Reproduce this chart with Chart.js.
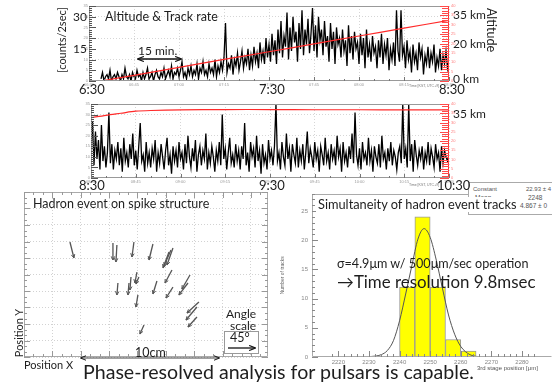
<!DOCTYPE html>
<html>
<head>
<meta charset="utf-8">
<script src="https://cdn.jsdelivr.net/npm/chart.js@4.4.0/dist/chart.umd.min.js"></script>
<style>
body { margin: 0; width: 552px; height: 383px; overflow: hidden; background: #fff; position: relative; font-family: Lato, "Open Sans", sans-serif; color: #1e1e1e; }
canvas { position: absolute; }
.t { position: absolute; white-space: nowrap; line-height: 1; }
.rot { transform: translate(-50%, -50%) rotate(-90deg); }
.rotc { transform: translate(-50%, -50%) rotate(90deg); }
.tiny { font-family: "Liberation Sans", sans-serif; color: #777; }
</style>
</head>
<body>

<canvas id="rate1" width="410" height="100" style="left:60px;top:0px"></canvas>
<canvas id="rate2" width="410" height="100" style="left:60px;top:98px"></canvas>
<canvas id="hadron" width="280" height="180" style="left:0px;top:186px"></canvas>
<canvas id="hist" width="272" height="197" style="left:280px;top:186px"></canvas>

<svg width="552" height="383" style="position:absolute;left:0;top:0">
  <defs>
    <marker id="ah" viewBox="0 0 10 10" refX="9" refY="5" markerWidth="5" markerHeight="5" orient="auto-start-reverse">
      <path d="M0,1 L10,5 L0,9" fill="none" stroke="#111" stroke-width="1.6"/>
    </marker>
  </defs>
  <line x1="138" y1="59" x2="181" y2="59" stroke="#111" stroke-width="1.3" marker-start="url(#ah)" marker-end="url(#ah)"/>
  <line x1="81" y1="358" x2="219" y2="358" stroke="#444" stroke-width="1.2" marker-start="url(#ah)" marker-end="url(#ah)"/>
  <rect x="224.5" y="331.5" width="34" height="22" fill="#fff" stroke="#999"/>
  <line x1="228" y1="348" x2="255" y2="348" stroke="#111" stroke-width="1.3" marker-end="url(#ah)"/>
</svg>

<!-- stats box of the histogram, partly hidden by the title -->
<div style="position:absolute;left:468px;top:182px;width:90px;height:31px;border:1px solid #aaa;background:#fff"></div>
<div class="t tiny" style="left:473px;top:186px;font-size:6px;color:#555">Constant</div>
<div class="t tiny" style="left:526px;top:186px;font-size:6px;color:#555">22.93 ± 4</div>
<div class="t tiny" style="left:475px;top:195px;font-size:6.5px;color:#555">Mean</div>
<div class="t tiny" style="left:528px;top:195px;font-size:6.5px;color:#555">2248</div>
<div class="t tiny" style="left:475px;top:203px;font-size:6.5px;color:#555">Sigma</div>
<div class="t tiny" style="left:520px;top:203px;font-size:6.5px;color:#555">4.867 ± 0</div>

<!-- slide text -->
<div class="t" style="left:105px;top:11px;font-size:12.5px">Altitude &amp; Track rate</div>
<div class="t" style="left:138px;top:45px;font-size:12px">15 min.</div>
<div class="t rot" style="left:61px;top:40px;font-size:11px">[counts/2sec]</div>
<div class="t" style="left:73px;top:11px;font-size:12px">30</div>
<div class="t" style="left:73px;top:43px;font-size:12px">15</div>
<div class="t" style="left:79px;top:83px;font-size:13px">6:30</div>
<div class="t" style="left:259px;top:83px;font-size:13px">7:30</div>
<div class="t" style="left:439px;top:83px;font-size:13px">8:30</div>
<div class="t" style="left:453px;top:9px;font-size:12px">35 km</div>
<div class="t" style="left:453px;top:38px;font-size:12px">20 km</div>
<div class="t" style="left:453px;top:73px;font-size:12px">0 km</div>
<div class="t rotc" style="left:491px;top:30px;font-size:12.5px">Altitude</div>
<div class="t tiny" style="left:409px;top:85px;font-size:3.5px">Time [KST, UTC+9]</div>

<div class="t" style="left:79px;top:179px;font-size:13px">8:30</div>
<div class="t" style="left:259px;top:179px;font-size:13px">9:30</div>
<div class="t" style="left:437px;top:179px;font-size:13px">10:30</div>
<div class="t" style="left:453px;top:108px;font-size:12px">35 km</div>
<div class="t tiny" style="left:409px;top:184px;font-size:3.5px">Time [KST, UTC+9]</div>

<div class="t" style="left:33px;top:198px;font-size:12.5px">Hadron event on spike structure</div>
<div class="t rot" style="left:18px;top:333px;font-size:11px">Position Y</div>
<div class="t" style="left:24px;top:359px;font-size:11px">Position X</div>
<div class="t" style="left:135px;top:347px;font-size:12.5px">10cm</div>
<div class="t" style="left:226px;top:308px;font-size:12px">Angle</div>
<div class="t" style="left:230px;top:320px;font-size:12px">scale</div>
<div class="t" style="left:230px;top:332px;font-size:12.5px">45°</div>

<div class="t" style="left:316px;top:197px;font-size:12.8px;background:#fff;padding:1px 2px">Simultaneity of hadron event tracks</div>
<div class="t" style="left:337px;top:258px;font-size:12.6px">σ=4.9μm w/ 500μm/sec operation</div>
<div class="t" style="left:337px;top:274px;font-size:16.9px">→Time resolution 9.8msec</div>
<div class="t tiny" style="left:477px;top:365px;font-size:6px;color:#555">3rd stage position [μm]</div>

<div class="t" style="left:83px;top:362px;font-size:19.6px">Phase-resolved analysis for pulsars is capable.</div>

<script>
// top panel: 6:30 - 8:30, x in minutes after 6:30
const rateStep = 0.5;
const rateStart1 = 4;
const rate1 = [
  1, 4, 0, 2, 3, 1, 5, 0, 2, 3, 1, 4, 2, 0, 3, 1, 6, 2, 1, 3,
  0, 4, 2, 1, 5, 2, 3, 0, 4, 1, 3, 6, 1, 2, 4, 0, 3, 5, 2, 1,
  4, 2, 6, 1, 3, 5, 2, 7, 1, 4, 3, 6, 2, 5, 9, 2, 4, 1, 6, 3,
  7, 2, 5, 3, 8, 1, 6, 4, 9, 3, 5, 2, 8, 4, 6, 3, 10, 2, 7, 4,
  9, 5, 11, 27, 4, 8, 6, 12, 3, 10, 7, 13, 5, 9, 14, 6, 11, 8, 15, 5,
  12, 7, 16, 9, 13, 6, 18, 10, 14, 8, 20, 11, 17, 9, 22, 12, 19, 8, 24, 13,
  28, 11, 21, 16, 32, 10, 25, 14, 30, 18, 23, 9, 27, 15, 33, 12, 24, 17, 29, 13,
  22, 34, 14, 26, 11, 30, 19, 24, 12, 28, 16, 21, 9, 27, 15, 23, 8, 25, 17, 20,
  11, 24, 14, 19, 7, 26, 13, 21, 10, 23, 15, 18, 8, 22, 12, 20, 6, 24, 11, 17,
  9, 21, 13, 16, 6, 19, 11, 22, 8, 17, 12, 20, 5, 15, 10, 18, 7, 33, 14, 9,
  33, 12, 16, 6, 19, 10, 14, 4, 17, 9, 13, 5, 18, 11, 15, 3, 12, 8, 16, 6,
  13, 9, 17, 4, 11, 7, 15, 5, 12, 8, 14, 6, 10
];
const altMin1 = [4, 15, 30, 45, 60, 75, 90, 105, 120];
const altKm1 = [0, 3, 7.3, 11.5, 15.6, 19.8, 24, 28.2, 32.3];

// second panel: 8:30 - 10:30
const rateStart2 = 0;
const rate2 = [
  14, 27, 6, 22, 9, 18, 4, 25, 8, 15, 5, 12, 31, 7, 16, 4, 13, 9, 17, 6,
  14, 3, 19, 8, 12, 5, 16, 9, 21, 6, 13, 4, 15, 26, 8, 11, 3, 17, 7, 12,
  5, 14, 9, 18, 3, 12, 7, 16, 10, 4, 13, 19, 6, 11, 2, 15, 8, 13, 5, 17,
  9, 12, 4, 16, 7, 20, 10, 5, 14, 8, 18, 3, 11, 15, 6, 13, 9, 21, 4, 12,
  7, 15, 10, 3, 13, 8, 17, 6, 30, 9, 14, 4, 12, 19, 7, 11, 5, 16, 8, 13,
  4, 15, 9, 26, 6, 12, 3, 17, 10, 14, 5, 20, 8, 13, 2, 16, 7, 11, 4, 18,
  9, 13, 6, 15, 35, 8, 12, 4, 17, 10, 6, 21, 9, 14, 3, 16, 11, 7, 19, 5,
  13, 8, 16, 4, 12, 22, 7, 14, 10, 5, 17, 9, 13, 3, 15, 11, 6, 19, 8, 12,
  4, 16, 9, 13, 6, 20, 10, 14, 3, 17, 8, 12, 5, 15, 9, 21, 7, 31, 11, 6,
  14, 4, 17, 9, 12, 6, 19, 8, 13, 3, 15, 10, 7, 16, 5, 20, 9, 12, 4, 14,
  8, 17, 6, 13, 10, 4, 12, 15, 7, 35, 9, 14, 5, 35, 8, 16, 3, 18, 11, 6,
  13, 9, 15, 4, 12, 8, 17, 6, 14, 10, 5, 16, 9, 12, 3, 15, 7, 13, 10, 8,
  11
];
const altMin2 = [0, 5, 10, 15, 20, 30, 45, 60, 75, 90, 105, 120];
const altKm2 = [32.6, 33.9, 35.0, 36.1, 36.5, 36.8, 37.0, 37.0, 36.9, 36.9, 36.8, 36.8];

// hadron tracks on the spike (tail -> head), x in cm
const tailX = [3.24, 6.27, 6.55, 7.75, 9.09, 10.36, 10.50, 10.22, 10.43, 7.96, 8.10, 7.54, 6.62, 7.40, 9.37, 10.50, 11.70, 11.56, 8.03, 12.33, 12.19, 12.19, 8.46];
const tailY = [13.94, 13.82, 13.58, 13.94, 13.70, 12.97, 13.21, 12.73, 10.55, 10.30, 9.70, 9.70, 8.97, 8.97, 9.21, 8.48, 9.94, 8.97, 7.52, 6.67, 6.06, 4.85, 3.88];
const headX = [3.52, 6.27, 6.48, 7.61, 8.81, 9.87, 10.08, 9.80, 9.94, 7.82, 7.89, 7.47, 6.55, 7.33, 9.09, 10.01, 11.13, 10.92, 7.89, 11.49, 11.42, 11.56, 8.17];
const headY = [12.00, 11.76, 11.52, 12.12, 11.76, 11.03, 11.15, 10.79, 8.97, 8.97, 8.85, 8.12, 7.52, 7.52, 7.64, 7.15, 8.24, 7.52, 6.06, 5.33, 4.48, 3.64, 2.79];

// histogram of 3rd stage position
const binCenter = [2242.5, 2247.5, 2252.5, 2257.5, 2262.5];
const binCount = [12, 24, 12, 3, 1];
const fitX = [2228, 2231, 2234, 2236, 2238, 2240, 2242, 2244, 2246, 2248, 2250, 2252, 2254, 2256, 2258, 2260, 2263, 2267];
const fitY = [0, 0.1, 0.4, 1.1, 2.8, 6.2, 10.8, 15.6, 20.2, 22, 20.5, 16.6, 11.8, 7.2, 3.9, 1.8, 0.4, 0];

Chart.defaults.font.family = '"Liberation Sans", sans-serif';

// frame round the plot area, like ROOT
function frame(color, sides, rightColor) {
  return {
    id: 'frame',
    afterDraw(chart) {
      const a = chart.chartArea, ctx = chart.ctx;
      const l = Math.round(a.left) + 0.5, r = Math.round(a.right) - 0.5;
      const t = Math.round(a.top) + 0.5, b = Math.round(a.bottom) - 0.5;
      ctx.save();
      ctx.lineWidth = 1;
      ctx.strokeStyle = color;
      ctx.beginPath();
      if (sides.includes('l')) { ctx.moveTo(l, t); ctx.lineTo(l, b); }
      if (sides.includes('t')) { ctx.moveTo(l, t); ctx.lineTo(r, t); }
      if (sides.includes('b')) { ctx.moveTo(l, b); ctx.lineTo(r, b); }
      if (sides.includes('r') && !rightColor) { ctx.moveTo(r, t); ctx.lineTo(r, b); }
      ctx.stroke();
      if (rightColor) {
        ctx.strokeStyle = rightColor;
        ctx.beginPath(); ctx.moveTo(r, t); ctx.lineTo(r, b); ctx.stroke();
      }
      ctx.restore();
    }
  };
}

// small inward tick marks along the frame
function comb(specs) {
  return {
    id: 'comb',
    afterDraw(chart) {
      const a = chart.chartArea, ctx = chart.ctx;
      ctx.save();
      ctx.lineWidth = 1;
      specs.forEach(s => {
        const sc = chart.scales[s.scale];
        const first = Math.ceil(sc.min / s.step - 1e-6);
        const last = Math.floor(sc.max / s.step + 1e-6);
        ctx.strokeStyle = s.color;
        ctx.beginPath();
        for (let i = first; i <= last; i++) {
          const v = i * s.step;
          const q = v / s.major;
          const len = Math.abs(q - Math.round(q)) < 1e-6 ? s.majorLen : s.len;
          const p = Math.round(sc.getPixelForValue(v)) + 0.5;
          if (s.side === 'left') { ctx.moveTo(a.left, p); ctx.lineTo(a.left + len, p); }
          if (s.side === 'right') { ctx.moveTo(a.right, p); ctx.lineTo(a.right - len, p); }
          if (s.side === 'bottom') { ctx.moveTo(p, a.bottom); ctx.lineTo(p, a.bottom - len); }
          if (s.side === 'top') { ctx.moveTo(p, a.top); ctx.lineTo(p, a.top + len); }
        }
        ctx.stroke();
      });
      ctx.restore();
    }
  };
}

function timeLabel(base) {
  return v => {
    const m = base + v;
    return String(Math.floor(m / 60)).padStart(2, '0') + ':' + String(m % 60).padStart(2, '0');
  };
}

function rateChart(id, start, rate, altMin, altKm, base, leftW, bottomH) {
  const pts = rate.map((v, i) => ({ x: start + i * rateStep, y: v }));
  const alt = altMin.map((m, i) => ({ x: m, y: altKm[i] }));
  return new Chart(document.getElementById(id), {
    type: 'line',
    data: {
      datasets: [
        { data: alt, yAxisID: 'y2', borderColor: '#ff2a2a', borderWidth: 1.2, pointRadius: 0, tension: 0.3 },
        { data: pts, yAxisID: 'y', borderColor: '#000', borderWidth: 1.3, pointRadius: 0, tension: 0 }
      ]
    },
    options: {
      responsive: false,
      animation: false,
      events: [],
      layout: { padding: { top: 6, left: 0, right: 0, bottom: 0 } },
      plugins: { legend: { display: false }, tooltip: { enabled: false } },
      scales: {
        x: {
          type: 'linear', min: 0, max: 120,
          ticks: { stepSize: 15, callback: timeLabel(base), font: { size: 4 }, color: '#999', padding: 1, maxRotation: 0, autoSkip: false },
          grid: { color: '#d6d6d6', drawTicks: false },
          border: { display: false, dash: [1, 2] },
          afterFit: s => { s.height = bottomH; }
        },
        y: {
          position: 'left', min: 0, max: 35,
          ticks: { stepSize: 5, includeBounds: false, font: { size: 4 }, color: '#999', padding: 1 },
          grid: { color: c => (c.tick && c.tick.value % 10 === 0 && c.tick.value > 0) ? '#d6d6d6' : 'rgba(0,0,0,0)', drawTicks: false },
          border: { display: false, dash: [1, 2] },
          afterFit: s => { s.width = leftW; }
        },
        y2: {
          position: 'right', min: 0, max: 40,
          ticks: { stepSize: 5, font: { size: 4 }, color: '#ff8080', padding: 2 },
          grid: { drawOnChartArea: false, drawTicks: false },
          border: { display: false },
          afterFit: s => { s.width = 21; }
        }
      }
    },
    plugins: [
      frame('#999', 'ltb', '#ff3030'),
      comb([
        { scale: 'y', side: 'left', step: 1, major: 5, len: 3, majorLen: 7, color: '#555' },
        { scale: 'y2', side: 'right', step: 1.25, major: 5, len: 7, majorLen: 9, color: '#ff4a4a' },
        { scale: 'x', side: 'bottom', step: 5, major: 15, len: 2, majorLen: 4, color: '#777' }
      ])
    ]
  });
}

rateChart('rate1', rateStart1, rate1, altMin1, altKm1, 6 * 60 + 30, 29, 19);
rateChart('rate2', rateStart2, rate2, altMin2, altKm2, 8 * 60 + 30, 31, 20);

// arrow heads at the end of each track
const arrowHeads = {
  id: 'heads',
  afterDatasetsDraw(chart) {
    const ctx = chart.ctx;
    ctx.save();
    chart.data.datasets.forEach((ds, i) => {
      const p = chart.getDatasetMeta(i).data;
      const a = p[0], b = p[1];
      const ang = Math.atan2(b.y - a.y, b.x - a.x);
      ctx.strokeStyle = ds.borderColor;
      ctx.lineWidth = 1;
      ctx.beginPath();
      [-0.45, 0.45].forEach(d => {
        ctx.moveTo(b.x, b.y);
        ctx.lineTo(b.x - 4 * Math.cos(ang + d), b.y - 4 * Math.sin(ang + d));
      });
      ctx.stroke();
    });
    ctx.restore();
  }
};

new Chart(document.getElementById('hadron'), {
  type: 'line',
  data: {
    datasets: tailX.map((x, i) => ({
      data: [{ x: x, y: tailY[i] }, { x: headX[i], y: headY[i] }],
      borderColor: '#555', borderWidth: 1.3, pointRadius: 0
    }))
  },
  options: {
    responsive: false,
    animation: false,
    events: [],
    layout: { padding: { left: 24, top: 6, right: 12, bottom: 9 } },
    plugins: { legend: { display: false }, tooltip: { enabled: false } },
    scales: {
      x: {
        type: 'linear', min: 0, max: 17.2,
        ticks: { display: false, stepSize: 2, includeBounds: false },
        grid: { color: '#d2d2d2', drawTicks: false },
        border: { display: false, dash: [1, 2] },
        afterFit: s => { s.height = 0; }
      },
      y: {
        min: 0, max: 20,
        ticks: { display: false, stepSize: 2 },
        grid: { color: '#d2d2d2', drawTicks: false },
        border: { display: false, dash: [1, 2] },
        afterFit: s => { s.width = 0; }
      }
    }
  },
  plugins: [
    arrowHeads,
    frame('#aaa', 'ltbr'),
    comb([
      { scale: 'y', side: 'left', step: 2 / 3, major: 2, len: 3, majorLen: 6, color: '#999' },
      { scale: 'y', side: 'right', step: 2 / 3, major: 2, len: 3, majorLen: 6, color: '#999' },
      { scale: 'x', side: 'bottom', step: 2 / 3, major: 2, len: 3, majorLen: 6, color: '#999' },
      { scale: 'x', side: 'top', step: 2 / 3, major: 2, len: 3, majorLen: 6, color: '#999' }
    ])
  ]
});

new Chart(document.getElementById('hist'), {
  type: 'bar',
  data: {
    datasets: [
      {
        type: 'line',
        data: fitX.map((x, i) => ({ x: x, y: fitY[i] })),
        borderColor: '#555', borderWidth: 1, pointRadius: 0,
        tension: 0.4, cubicInterpolationMode: 'monotone'
      },
      {
        type: 'bar',
        data: binCenter.map((x, i) => ({ x: x, y: binCount[i] })),
        backgroundColor: '#ffff00', borderColor: '#9a9a9a', borderWidth: 1,
        barPercentage: 1, categoryPercentage: 1, borderSkipped: 'bottom'
      }
    ]
  },
  options: {
    responsive: false,
    animation: false,
    events: [],
    layout: { padding: { left: 0, top: 7, right: 0, bottom: 0 } },
    plugins: { legend: { display: false }, tooltip: { enabled: false } },
    scales: {
      x: {
        type: 'linear', min: 2217, max: 2284.2,
        ticks: { stepSize: 10, includeBounds: false, font: { size: 6 }, color: '#888', padding: 2, maxRotation: 0, autoSkip: false, callback: v => String(v) },
        grid: { display: false, drawTicks: false },
        border: { display: false },
        afterFit: s => { s.height = 26; }
      },
      y: {
        min: 0, max: 28,
        ticks: { stepSize: 5, includeBounds: false, font: { size: 6 }, color: '#888', padding: 4 },
        title: { display: true, text: 'Number of tracks', font: { size: 5 }, color: '#666', padding: 0 },
        grid: { display: false, drawTicks: false },
        border: { display: false },
        afterFit: s => { s.width = 32; }
      }
    }
  },
  plugins: [
    frame('#aaa', 'ltb'),
    comb([
      { scale: 'x', side: 'bottom', step: 2, major: 10, len: 3, majorLen: 6, color: '#888' },
      { scale: 'y', side: 'left', step: 1, major: 5, len: 3, majorLen: 6, color: '#888' }
    ])
  ]
});
</script>
</body>
</html>
